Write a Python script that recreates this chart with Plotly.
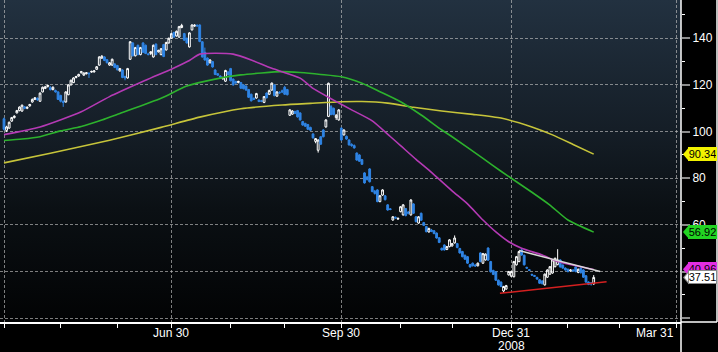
import base64
import pandas as pd
import plotly.graph_objects as go

# ---------------- data ----------------
start_day = "2008-03-31"
n_days = 230

opens = [
    105.5, 100.5, 101.5, 104.5, 106.0, 108.0, 109.0, 108.8, 110.6, 110.0,
    111.0, 112.7, 113.8, 114.3, 113.0, 117.0, 118.5, 119.3, 118.8, 118.0,
    117.6, 117.0, 115.5, 113.0, 112.7, 115.8, 120.0, 121.0, 123.2, 123.8,
    125.2, 124.2, 124.8, 125.0, 125.5, 125.6, 126.7, 128.5, 131.5, 132.0,
    130.8, 128.5, 128.5, 129.0, 128.3, 126.0, 126.4, 123.6, 123.0, 131.0,
    138.0, 132.5, 137.0, 133.0, 138.0, 137.0, 133.3, 133.5, 132.0, 137.5,
    134.2, 133.0, 137.3, 135.0, 138.0, 140.0, 142.5, 141.0, 140.5, 144.6,
    142.0, 140.0, 136.3, 143.6, 145.2, 145.6, 145.7, 138.5, 134.0, 131.5,
    129.5, 130.0, 126.4, 124.8, 123.8, 122.6, 121.6, 125.5, 127.0, 122.5,
    121.5, 121.0, 121.0, 120.0, 119.5, 118.0, 116.0, 114.3, 114.4, 113.5,
    113.2, 112.5, 116.5, 116.0, 117.8, 120.0, 115.2, 116.8, 117.5, 119.0,
    118.0, 107.0, 107.5, 108.6, 109.0, 108.0, 104.3, 103.5, 103.0, 101.8,
    99.0, 95.8, 92.0, 97.8, 100.7, 102.0, 106.5, 110.7, 110.0, 106.0,
    105.0, 101.5, 98.6, 98.0, 96.4, 94.5, 94.0, 90.8, 90.0, 88.0,
    82.3, 80.5, 84.0, 76.4, 74.5, 75.0, 70.0, 72.8, 72.5, 68.6,
    66.9, 62.1, 63.3, 62.5, 65.7, 64.3, 67.0, 65.5, 64.3, 69.0,
    63.5, 60.8, 65.0, 61.0, 59.3, 57.0, 57.8, 57.5, 56.5, 54.5,
    50.0, 51.4, 49.5, 50.7, 51.0, 52.3, 52.0, 49.9, 48.6, 47.0,
    46.4, 43.0, 43.6, 42.8, 42.5, 48.0, 43.6, 45.0, 50.1, 44.3,
    40.5, 39.9, 36.3, 35.5, 31.7, 32.5, 38.6, 38.0, 37.8, 42.9,
    44.3, 49.3, 47.0, 41.8, 40.8, 38.8, 38.3, 37.5, 36.5, 36.0,
    34.3, 37.6, 38.9, 39.4, 42.1, 43.0, 45.0, 42.8, 41.5, 41.0,
    40.3, 40.7, 42.0, 39.6, 41.5, 40.7, 38.2, 35.5, 35.2, 34.7,
]
highs = [
    106.0, 102.5, 104.3, 106.3, 107.0, 109.3, 110.8, 111.6, 111.0, 110.8,
    111.9, 114.2, 114.8, 114.6, 116.8, 119.3, 119.6, 120.0, 119.5, 119.4,
    118.0, 117.3, 115.8, 113.4, 117.3, 120.3, 122.3, 123.3, 123.9, 124.8,
    126.0, 125.4, 125.5, 125.4, 126.1, 126.3, 128.1, 132.3, 132.8, 132.3,
    131.1, 129.8, 131.3, 129.3, 128.6, 127.3, 126.7, 124.0, 127.3, 138.8,
    138.3, 136.3, 137.3, 136.3, 138.3, 137.3, 133.8, 134.5, 137.3, 137.8,
    135.1, 135.8, 137.6, 138.5, 140.3, 142.3, 142.8, 143.3, 145.3, 146.2,
    142.3, 140.3, 142.6, 146.0, 146.0, 145.9, 146.0, 138.8, 136.0, 131.8,
    131.0, 130.3, 126.7, 125.1, 124.1, 123.5, 126.5, 126.0, 127.3, 122.8,
    121.8, 121.8, 121.3, 120.3, 119.8, 118.3, 116.3, 114.6, 116.6, 113.8,
    113.6, 115.2, 116.8, 118.0, 121.0, 120.3, 117.3, 117.3, 118.0, 119.6,
    118.3, 109.6, 109.2, 109.0, 109.3, 108.3, 104.6, 103.8, 103.3, 102.1,
    99.3, 97.2, 96.6, 98.1, 101.0, 105.3, 121.0, 111.4, 110.3, 107.5,
    109.6, 101.8, 100.9, 98.3, 96.7, 95.0, 94.5, 91.1, 90.3, 88.3,
    82.6, 81.0, 84.3, 76.7, 75.0, 75.3, 72.8, 75.3, 72.8, 68.9,
    67.2, 63.8, 63.6, 63.2, 68.1, 68.9, 67.3, 66.0, 71.0, 69.3,
    63.8, 63.8, 65.3, 61.3, 59.6, 58.8, 58.3, 57.8, 56.8, 54.8,
    50.3, 51.7, 51.0, 53.9, 52.3, 55.5, 52.3, 50.2, 48.9, 47.3,
    46.7, 43.3, 43.9, 43.3, 43.9, 48.3, 48.0, 47.8, 50.4, 44.6,
    40.8, 40.2, 36.6, 35.8, 33.9, 34.3, 40.3, 40.3, 44.6, 46.7,
    48.9, 50.0, 47.3, 42.1, 41.1, 39.1, 38.6, 37.8, 36.8, 36.3,
    39.2, 41.0, 42.4, 45.3, 46.0, 49.6, 45.3, 43.1, 41.8, 41.3,
    41.0, 41.0, 42.3, 41.3, 41.8, 41.0, 38.5, 35.8, 35.5, 38.5,
]
lows = [
    100.5, 99.8, 101.2, 104.2, 105.6, 107.8, 108.7, 108.5, 109.6, 109.6,
    110.7, 112.4, 113.5, 113.2, 112.8, 116.8, 118.2, 118.9, 117.6, 117.7,
    116.7, 113.6, 112.5, 110.6, 112.4, 115.6, 119.8, 120.8, 122.8, 123.5,
    124.9, 123.9, 124.5, 123.0, 125.2, 125.3, 126.4, 128.2, 131.2, 130.2,
    129.2, 128.2, 128.2, 127.2, 126.2, 125.7, 122.9, 122.0, 122.7, 130.7,
    132.2, 132.2, 132.7, 132.7, 133.7, 133.2, 132.7, 132.8, 131.7, 132.7,
    133.9, 132.7, 131.9, 134.7, 137.7, 139.7, 140.2, 140.7, 140.2, 144.3,
    138.9, 137.7, 136.0, 143.3, 144.9, 145.0, 138.3, 131.7, 130.4, 128.2,
    129.2, 127.4, 124.2, 123.9, 123.0, 122.3, 121.3, 124.0, 121.5, 119.7,
    120.5, 120.7, 118.3, 118.1, 117.5, 114.4, 112.9, 113.5, 114.1, 112.6,
    112.6, 112.2, 114.2, 115.7, 117.5, 115.1, 114.9, 116.2, 116.5, 115.7,
    115.5, 106.7, 107.2, 107.5, 106.0, 104.7, 102.5, 102.0, 100.7, 100.3,
    97.0, 95.0, 91.0, 94.3, 97.5, 101.7, 106.2, 107.0, 107.0, 105.0,
    104.7, 96.1, 98.3, 96.5, 94.0, 93.5, 92.7, 87.5, 87.0, 85.7,
    77.7, 79.0, 78.2, 74.0, 73.0, 69.7, 69.7, 72.5, 70.5, 66.1,
    66.3, 61.8, 62.7, 62.2, 65.4, 64.0, 63.7, 64.5, 64.0, 64.7,
    61.1, 60.5, 61.7, 59.5, 56.8, 56.7, 56.9, 56.0, 54.1, 52.2,
    49.0, 49.0, 49.2, 50.4, 50.7, 52.0, 50.0, 47.7, 46.1, 45.0,
    43.3, 41.7, 42.2, 42.0, 42.2, 44.0, 43.3, 44.7, 44.6, 39.6,
    38.5, 36.0, 34.0, 33.3, 30.9, 32.2, 38.3, 37.7, 37.5, 42.6,
    44.0, 46.8, 42.6, 41.2, 40.2, 38.2, 37.7, 36.5, 34.7, 34.5,
    34.0, 37.3, 38.6, 39.1, 41.8, 42.7, 41.7, 41.2, 40.4, 39.7,
    40.0, 40.0, 39.7, 39.3, 39.2, 37.3, 35.2, 34.2, 34.0, 34.4,
]
closes = [
    101.0, 102.0, 104.0, 106.0, 106.6, 109.0, 110.5, 111.3, 110.0, 110.4,
    111.6, 113.8, 114.5, 113.6, 116.5, 119.0, 119.2, 119.8, 118.0, 119.0,
    117.0, 113.8, 113.0, 112.5, 117.0, 120.0, 122.0, 123.0, 123.6, 124.5,
    125.7, 125.1, 125.2, 124.8, 125.8, 126.0, 127.8, 132.0, 132.3, 130.5,
    129.5, 129.5, 131.0, 127.5, 126.5, 127.0, 123.2, 123.0, 127.0, 138.5,
    132.5, 136.0, 133.0, 136.0, 134.0, 133.5, 133.0, 134.2, 137.0, 133.0,
    134.8, 135.5, 132.2, 138.2, 140.0, 142.0, 140.5, 143.0, 145.0, 145.5,
    139.2, 138.0, 142.3, 145.7, 145.6, 145.3, 138.6, 132.0, 130.7, 128.5,
    130.7, 127.7, 124.5, 124.2, 123.3, 123.2, 126.2, 124.5, 121.8, 120.0,
    120.8, 121.5, 118.6, 118.4, 117.8, 114.7, 113.2, 113.8, 116.3, 112.9,
    113.0, 115.0, 114.5, 117.6, 120.8, 115.4, 117.0, 116.6, 117.0, 116.0,
    115.8, 109.3, 108.8, 107.8, 106.3, 105.0, 102.8, 102.3, 101.0, 100.6,
    97.3, 97.0, 96.4, 94.6, 97.8, 105.0, 120.7, 107.3, 107.3, 107.0,
    109.3, 96.4, 100.7, 96.8, 94.3, 94.0, 93.0, 87.8, 87.3, 86.0,
    78.0, 79.5, 78.5, 74.3, 73.5, 70.0, 72.5, 75.0, 70.8, 66.4,
    66.6, 63.5, 63.0, 62.8, 67.8, 68.6, 64.0, 65.0, 70.7, 65.0,
    61.4, 63.5, 62.0, 59.8, 57.1, 58.5, 57.2, 56.3, 54.4, 52.5,
    49.3, 49.3, 50.7, 53.6, 52.0, 54.4, 50.3, 48.0, 46.4, 45.3,
    43.6, 42.0, 42.5, 42.4, 43.6, 44.3, 47.7, 47.5, 44.9, 39.9,
    38.8, 36.3, 34.3, 33.6, 33.6, 34.0, 40.0, 40.0, 44.3, 46.4,
    48.6, 47.1, 42.9, 41.5, 40.5, 38.5, 38.0, 36.8, 35.0, 34.8,
    38.9, 40.7, 42.1, 45.0, 45.7, 45.0, 42.0, 41.5, 40.7, 40.0,
    40.7, 40.3, 40.0, 41.0, 39.5, 37.6, 35.5, 34.5, 34.7, 37.51,
]

# moving averages (sampled)
ma_fast_dates = ["2008-03-31", "2008-04-18", "2008-05-12", "2008-05-27", "2008-06-16",
                 "2008-07-01", "2008-07-09", "2008-07-15", "2008-07-23", "2008-08-01",
                 "2008-08-12", "2008-08-22", "2008-09-08", "2008-09-15", "2008-09-25",
                 "2008-10-06", "2008-10-16", "2008-10-27", "2008-10-31", "2008-11-10",
                 "2008-11-18", "2008-11-28", "2008-12-08", "2008-12-16", "2008-12-23",
                 "2008-12-30", "2009-01-06", "2009-01-16", "2009-01-26", "2009-02-04",
                 "2009-02-13"]
ma_fast_vals = [98.7, 102.0, 108.5, 115.0, 122.0,
                127.3, 130.5, 133.2, 133.6, 133.2,
                130.7, 127.1, 122.9, 118.5, 113.5,
                109.3, 104.6, 97.9, 94.0, 88.1,
                82.5, 74.6, 69.0, 62.1, 57.0,
                52.8, 50.0, 47.1, 44.3, 42.5,
                40.9]

ma_mid_dates = ["2008-03-31", "2008-04-09", "2008-04-18", "2008-04-30", "2008-05-12",
                "2008-05-22", "2008-06-02", "2008-06-24", "2008-07-08", "2008-07-23",
                "2008-08-06", "2008-08-28", "2008-09-08", "2008-09-18", "2008-09-30",
                "2008-10-10", "2008-10-21", "2008-10-31", "2008-11-12", "2008-11-24",
                "2008-11-28", "2008-12-16", "2008-12-25", "2009-01-12", "2009-01-21",
                "2009-01-30", "2009-02-13"]
ma_mid_vals = [96.2, 96.8, 97.8, 100.3, 102.2,
               105.0, 107.8, 114.3, 119.5, 122.5,
               124.3, 125.7, 125.3, 124.5, 123.5,
               120.7, 117.1, 112.8, 107.1, 100.7,
               97.8, 88.5, 83.0, 74.0, 68.5,
               62.1, 56.92]

ma_slow_dates = ["2008-03-31", "2008-04-24", "2008-05-27", "2008-06-24", "2008-07-15",
                 "2008-08-06", "2008-08-28", "2008-09-12", "2008-09-30", "2008-10-10",
                 "2008-10-24", "2008-11-07", "2008-11-24", "2008-12-10", "2008-12-25",
                 "2009-01-12", "2009-01-22", "2009-02-03", "2009-02-13"]
ma_slow_vals = [86.6, 90.7, 96.3, 101.8, 106.2,
                109.8, 111.4, 112.1, 112.8, 112.9,
                112.2, 110.4, 108.8, 107.4, 105.8,
                102.0, 98.6, 94.5, 90.34]

# drawn trend lines
resist_dates = ["2009-01-05", "2009-02-17 12:00"]
resist_vals = [49.0, 40.0]
support_dates = ["2008-12-24 14:00", "2009-02-20"]
support_vals = [30.7, 35.7]

# last-value tags (text, value, colour, border)
tags = [("90.34", 90.34, "#f2f200", "#f2f200"),
        ("56.92", 56.92, "#22d422", "#22d422"),
        ("40.96", 40.96, "#e22ee2", "#e22ee2"),
        ("37.51", 37.51, "#ffffff", "#8a8a8a")]

y_tick_vals = [20, 40, 60, 80, 100, 120, 140]
y_tick_text = ["", "40", "60", "80", "100", "120", "140"]
quarter_ticks = ["2008-03-31", "2008-06-30", "2008-09-30", "2008-12-31", "2009-03-31"]
x_labels = [("Jun 30", "2008-06-30", "center"), ("Sep 30", "2008-09-30", "center"),
            ("Dec 31", "2008-12-31", "center"), ("Mar 31", "2009-03-31", "right")]
year_label = ("2008", "2008-12-31")
month_ticks = ["2008-04-30", "2008-05-30", "2008-07-31", "2008-08-29", "2008-10-31",
               "2008-11-28", "2009-01-30", "2009-02-27"]

# ---------------- figure ----------------
dates = pd.bdate_range(start_day, periods=n_days)
assert len(opens) == len(highs) == len(lows) == len(closes) == n_days

FONT = "Liberation Sans, Arial, sans-serif"
W, H = 718, 352
ML, MR, MT, MB = 0, 37, 0, 30
PW, PH = W - ML - MR, H - MT - MB

fig = go.Figure()

fig.add_trace(go.Scatter(x=ma_slow_dates, y=ma_slow_vals, mode="lines",
                         line=dict(color="#c6c43a", width=1.6, shape="spline", smoothing=0.6),
                         hoverinfo="skip"))
fig.add_trace(go.Scatter(x=ma_mid_dates, y=ma_mid_vals, mode="lines",
                         line=dict(color="#2db22d", width=1.6, shape="spline", smoothing=0.6),
                         hoverinfo="skip"))
fig.add_trace(go.Scatter(x=ma_fast_dates, y=ma_fast_vals, mode="lines",
                         line=dict(color="#b53ab5", width=1.6, shape="spline", smoothing=0.6),
                         hoverinfo="skip"))

fig.add_trace(go.Candlestick(
    x=dates, open=opens, high=highs, low=lows, close=closes,
    increasing=dict(line=dict(color="#ffffff", width=1), fillcolor="rgba(0,0,0,0)"),
    decreasing=dict(line=dict(color="#2f84e4", width=1), fillcolor="#2f84e4"),
    whiskerwidth=0, hoverinfo="skip"))

fig.add_trace(go.Scatter(x=resist_dates, y=resist_vals, mode="lines",
                         line=dict(color="#d8d8d8", width=1.5), hoverinfo="skip"))
fig.add_trace(go.Scatter(x=support_dates, y=support_vals, mode="lines",
                         line=dict(color="#d42020", width=1.5), hoverinfo="skip"))

# gradient plot background
svg = ('<svg xmlns="http://www.w3.org/2000/svg" width="681" height="322" preserveAspectRatio="none">'
       '<defs><linearGradient id="g" x1="0" y1="0" x2="0" y2="1">'
       '<stop offset="0" stop-color="#223140"/>'
       '<stop offset="0.4" stop-color="#151e27"/>'
       '<stop offset="0.65" stop-color="#0b1014"/>'
       '<stop offset="1" stop-color="#020304"/>'
       '</linearGradient></defs><rect width="100%" height="100%" fill="url(#g)"/></svg>')
src = "data:image/svg+xml;base64," + base64.b64encode(svg.encode()).decode()

shapes = []
annotations = []
# axis panel borders
shapes.append(dict(type="line", xref="paper", yref="paper", x0=1, x1=1, y0=1, y1=-MB / PH,
                   line=dict(color="white", width=1.5)))
shapes.append(dict(type="line", xref="paper", yref="paper", x0=1 + 36 / PW, x1=1 + 36 / PW,
                   y0=1, y1=0, line=dict(color="white", width=1.5)))
shapes.append(dict(type="line", xref="paper", yref="paper", x0=1, x1=1 + 36 / PW,
                   y0=0, y1=0, line=dict(color="white", width=1.5)))

for text, val, col, border in tags:
    shapes.append(dict(type="path", xref="paper", yref="y", xsizemode="pixel", ysizemode="pixel",
                       xanchor=1, yanchor=val, path="M 2 0 L 8 7 L 8 -7 Z",
                       fillcolor=border, line=dict(width=0), layer="above"))
    shapes.append(dict(type="path", xref="paper", yref="y", xsizemode="pixel", ysizemode="pixel",
                       xanchor=1, yanchor=val, path="M 3.5 0 L 8 5.5 L 8 -5.5 Z",
                       fillcolor=col, line=dict(width=0), layer="above"))
    annotations.append(dict(text=text, xref="paper", yref="y", x=1, y=val, xanchor="center",
                            yanchor="middle", xshift=21.5, showarrow=False,
                            font=dict(family=FONT, size=11, color="black"),
                            bgcolor=col, bordercolor=border, borderwidth=1, borderpad=0,
                            width=27, height=12, align="center"))

for text, d, anchor in x_labels:
    annotations.append(dict(text=text, xref="x", yref="paper", x=d, y=-11 / PH,
                            xanchor=anchor, yanchor="middle", showarrow=False,
                            font=dict(family=FONT, size=12, color="white")))
annotations.append(dict(text=year_label[0], xref="x", yref="paper", x=year_label[1], y=-23.5 / PH,
                        xanchor="center", yanchor="middle", showarrow=False,
                        font=dict(family=FONT, size=12, color="white")))

fig.update_layout(
    width=W, height=H, margin=dict(l=ML, r=MR, t=MT, b=MB, pad=0),
    paper_bgcolor="black", plot_bgcolor="rgba(0,0,0,0)", showlegend=False,
    boxgap=0.0,
    images=[dict(source=src, xref="paper", yref="paper", x=0, y=1, sizex=1, sizey=1,
                 xanchor="left", yanchor="top", sizing="stretch", layer="below")],
    shapes=shapes, annotations=annotations,
    xaxis=dict(
        type="date", range=["2008-03-27 10:45", "2009-04-01 21:36"],
        rangebreaks=[dict(bounds=["sat", "mon"])],
        rangeslider=dict(visible=False),
        tickmode="array", tickvals=quarter_ticks, showticklabels=False,
        ticks="outside", ticklen=4, tickcolor="white", tickwidth=1,
        showgrid=True, gridcolor="rgba(190,190,190,0.65)", gridwidth=1, griddash="3px,2px",
        minor=dict(tickmode="array", tickvals=month_ticks, ticks="outside", ticklen=4,
                   tickcolor="white", tickwidth=1, showgrid=False),
        showline=True, linecolor="white", linewidth=1.5,
        zeroline=False, fixedrange=True),
    yaxis=dict(
        side="right", range=[18.4, 156.4],
        tickmode="array", tickvals=y_tick_vals, ticktext=y_tick_text,
        ticks="outside", ticklen=8, tickcolor="#8c8c8c", tickwidth=2,
        showgrid=True, gridcolor="rgba(190,190,190,0.65)", gridwidth=1, griddash="3px,2px",
        minor=dict(tickmode="linear", tick0=10, dtick=20, ticks="outside", ticklen=3,
                   tickcolor="white", tickwidth=1, showgrid=False),
        showline=False, zeroline=False,
        tickfont=dict(family=FONT, size=12, color="white"), fixedrange=True),
)

fig.write_html("out.html")
